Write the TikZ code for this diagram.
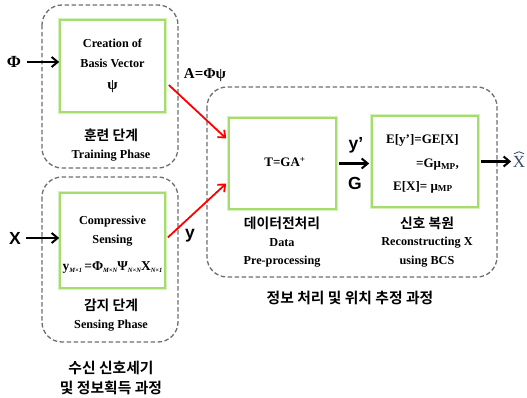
\documentclass[tikz,border=0pt]{standalone}
\usepackage{fontspec}
\setmainfont{Liberation Serif}
\newfontfamily\kr{Noto Sans CJK KR}[BoldFont={Noto Sans CJK KR Bold}]
\newfontfamily\sansf{Liberation Sans}
\usetikzlibrary{arrows.meta,calc}
\definecolor{gbox}{RGB}{165,220,110}
\definecolor{gglow}{RGB}{215,240,190}
\definecolor{dgray}{RGB}{110,110,110}
\definecolor{hatc}{RGB}{55,75,105}
\newcommand{\tinysub}[1]{\raisebox{-2pt}{\fontsize{6.5}{7}\selectfont\itshape #1}}
\tikzset{
  greenbox/.style={draw=gbox, line width=1.6pt, fill=white, minimum width=#1, inner sep=0pt,
     preaction={draw=gglow, line width=4pt}},
  dashbox/.style={draw=dgray, dashed, dash pattern=on 4.5pt off 2.5pt, line width=1.3pt, rounded corners=20pt},
  serifb/.style={font=\fontsize{12.2}{14}\selectfont\bfseries, inner sep=0pt},
  mathb/.style={font=\fontsize{13}{15}\selectfont\bfseries, inner sep=0pt},
  krb/.style={font=\kr\fontsize{13.8}{16}\selectfont\bfseries, inner sep=0pt},
  krbig/.style={font=\kr\fontsize{14.8}{17}\selectfont\bfseries, inner sep=0pt},
  sansbig/.style={font=\sansf\fontsize{17.5}{19}\selectfont\bfseries, inner sep=0pt},
  blk/.style={-{Straight Barb[length=6pt,width=10pt,line width=2pt]}, line width=2.2pt},
  redarr/.style={red, -{Straight Barb[length=6pt,width=10pt,line width=1.8pt]}, line width=1.8pt},
}
\begin{document}
\begin{tikzpicture}[x=1pt,y=-1pt]
\useasboundingbox (0,0) rectangle (527,398);
% dashed group boxes
\draw[dashbox] (42,5) rectangle (178,168);
\draw[dashbox] (42,177) rectangle (178,342);
\draw[dashbox] (207,87) rectangle (497,277);
% green boxes
\node[greenbox=105pt, minimum height=92pt] (train) at (112.5,66) {};
\node[greenbox=105pt, minimum height=95pt] (sens) at (112.5,240.5) {};
\node[greenbox=107pt, minimum height=91pt] (pre) at (282.5,163.5) {};
\node[greenbox=106pt, minimum height=91pt] (rec) at (425,161.5) {};
% texts inside training box
\node[serifb] (t1) at (112.5,43) {Creation of};
\node[serifb] (t2) at (112.5,63) {Basis Vector};
\node[serifb, font=\fontsize{15}{16}\selectfont\bfseries] (t3) at (112.5,87) {ψ};
% sensing
\node[serifb] (s1) at (112.5,222) {Compressive};
\node[serifb] (s2) at (112.5,241) {Sensing};
\node[mathb, font=\fontsize{13.5}{15}\selectfont\bfseries] (s3) at (112.5,268)
  {y\tinysub{M×1}\,=Φ\tinysub{M×N}Ψ\tinysub{N×N}X\tinysub{N×1}};
% pre-processing
\node[mathb] (p1) at (285,162) {T=GA\textsuperscript{+}};
% reconstruction
\node[mathb, anchor=west] (r1) at (386,140) {E[y’]=GE[X]};
\node[mathb, anchor=west] (r2) at (416,165) {=Gμ\textsubscript{MP},};
\node[mathb, anchor=west] (r3) at (393,187) {E[X]= μ\textsubscript{MP}};
% labels under boxes
\node[krb] (k1) at (111,135) {훈련 단계};
\node[serifb] (e1) at (111,156) {Training Phase};
\node[krb] (k2) at (111,305) {감지 단계};
\node[serifb] (e2) at (111,326) {Sensing Phase};
\node[krbig] (k3) at (111,368) {수신 신호세기};
\node[krbig] (k4) at (111,388) {및 정보획득 과정};
\node[krb] (k5) at (282,223) {데이터전처리};
\node[serifb] (e5a) at (282,243) {Data};
\node[serifb] (e5b) at (282,262) {Pre-processing};
\node[krb] (k6) at (427,223) {신호 복원};
\node[serifb] (e6a) at (427,243) {Reconstructing X};
\node[serifb] (e6b) at (427,262) {using BCS};
\node[krbig] (k7) at (350,298) {정보 처리 및 위치 추정 과정};
% inputs
\node[font=\fontsize{17}{18}\selectfont\bfseries, inner sep=0pt] (phi) at (14,62) {Φ};
\node[sansbig] (xin) at (15,238) {X};
\draw[blk] ([xshift=6pt]phi.east) -- (phi.east -| train.west);
\draw[blk] ([xshift=5pt]xin.east) -- (xin.east -| sens.west);
% red arrows
\coordinate (a1) at ([yshift=-19pt]train.east);
\coordinate (a2) at ([yshift=25pt]pre.west);
\coordinate (b1) at ([yshift=3pt]sens.east);
\coordinate (b2) at ([yshift=-20pt]pre.west);
\draw[redarr] ([xshift=3pt]a1) -- ([xshift=-2pt]a2);
\draw[redarr] ([xshift=2pt]b1) -- ([xshift=-2pt]b2);
\node[serifb, font=\fontsize{15}{16}\selectfont\bfseries] (alab) at (205,75) {A=Φψ};
\node[sansbig] (ylab) at (190,236) {y};
% middle arrow
\draw[blk] ([xshift=2pt]pre.east) -- ([xshift=-2pt]rec.west |- pre.east);
\node[sansbig] (yp) at (356,145) {y’};
\node[sansbig] (glab) at (355,183) {G};
% output
\node[inner sep=0pt, text=hatc, font=\fontsize{17}{18}\selectfont] (xhat) at (519,162) {X};
\draw[hatc, line width=0.8pt] ([xshift=-5pt,yshift=2.5pt]xhat.north) -- ([yshift=4.5pt]xhat.north) -- ([xshift=5pt,yshift=2.5pt]xhat.north);
\draw[blk] ([xshift=2pt]rec.east) -- ([xshift=-1.5pt]xhat.west |- rec.east);
\end{tikzpicture}
\end{document}
